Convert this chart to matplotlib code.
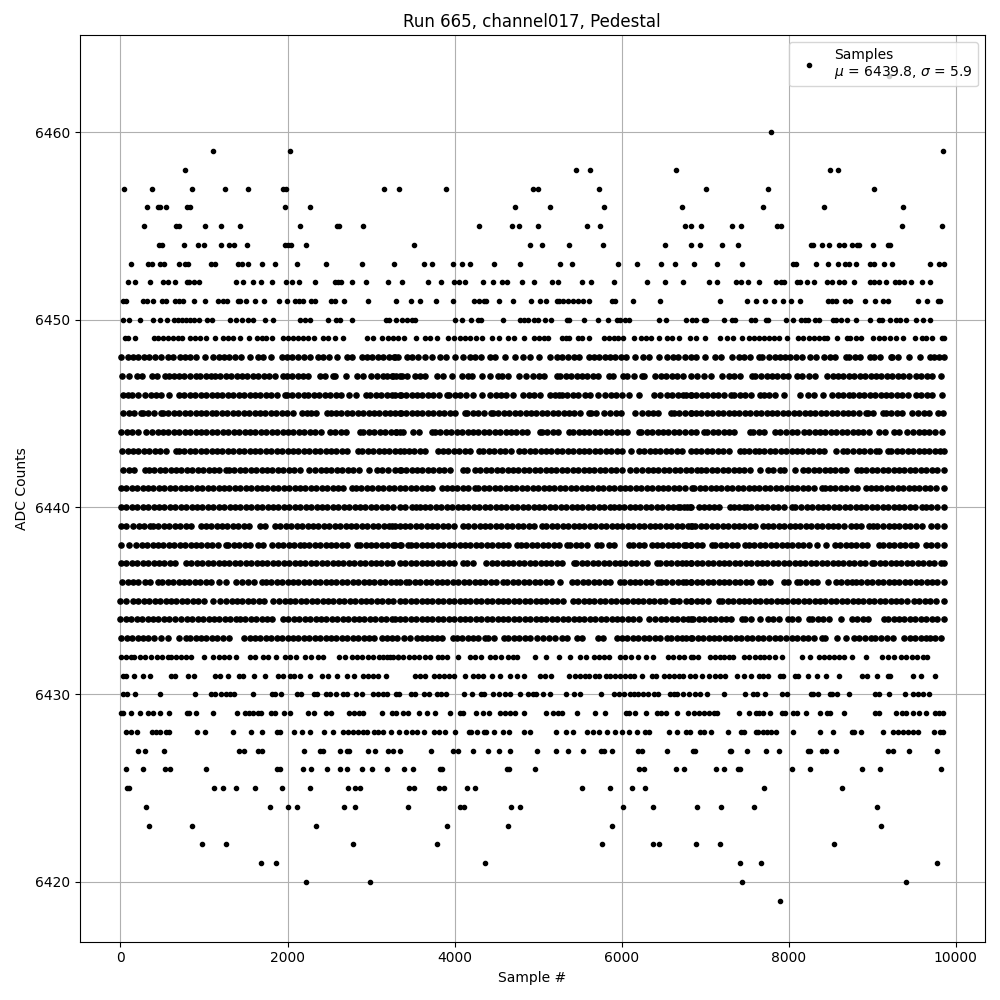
import matplotlib
matplotlib.use('Agg')
import matplotlib.pyplot as plt

# sample numbers, one list per ADC level
adc_6463 = [9200]
adc_6460 = [7787]
adc_6459 = [1108, 2032, 9851]
adc_6458 = [772, 5459, 5627, 6647, 8495, 8591]
adc_6457 = [40, 376, 856, 1252, 1528, 1948, 1980, 3160, 3340, 3892, 4943, 4995, 5723, 7007, 7751, 9023]
adc_6456 = [316, 448, 468, 544, 796, 828, 1972, 2272, 4720, 5147, 5783, 6719, 7691, 8423, 9371]
adc_6455 = [280, 664, 696, 1012, 1204, 1432, 2152, 2596, 2612, 2908, 4288, 4684, 4768, 5003, 5591, 5735, 6755, 6827, 6947, 7319, 7427,
            7863, 7903, 9359, 9839]
adc_6454 = [460, 492, 760, 928, 1000, 1204, 1300, 1360, 1516, 1972, 2008, 2036, 2224, 3520, 4900, 5051, 5375, 5771, 6515, 6827, 6935,
            7199, 7391, 8271, 8295, 8399, 8483, 8603, 8663, 8759, 8823, 8847, 9011, 9183, 9215]
adc_6453 = [124, 328, 376, 468, 516, 700, 772, 808, 1084, 1132, 1408, 1456, 1528, 1696, 1852, 2116, 2464, 2896, 3280, 3628, 3724, 3976,
            4084, 4180, 4468, 4780, 5267, 5411, 5951, 6179, 6467, 6635, 6863, 7139, 7439, 8051, 8087, 8327, 8471, 8591, 8675, 8723,
            8807, 8975, 9023, 9143, 9239, 9695, 9803, 9855]
adc_6452 = [88, 172, 352, 508, 568, 652, 796, 820, 880, 940, 1384, 1468, 1588, 1684, 1816, 1984, 2056, 2140, 2332, 2572, 2608, 2644,
            2776, 2944, 3208, 3376, 3676, 3832, 3988, 4048, 4120, 4336, 4456, 4564, 4624, 4804, 4955, 5171, 5243, 5531, 5639, 5903,
            6299, 6515, 6731, 7043, 7139, 7367, 7427, 7511, 7643, 7847, 7903, 7943, 8103, 8135, 8219, 8303, 8463, 8519, 8603, 8663,
            8783, 8975, 9023, 9083, 9167, 9275, 9323, 9383, 9463, 9599, 9695]
adc_6451 = [36, 68, 268, 316, 388, 496, 544, 652, 700, 748, 876, 1012, 1168, 1228, 1276, 1408, 1432, 1504, 1612, 1720, 1900, 1996, 2092,
            2140, 2188, 2284, 2332, 2524, 2572, 2680, 2968, 3304, 3484, 3592, 3772, 3976, 4228, 4288, 4348, 4372, 4528, 4696, 4919,
            5023, 5099, 5223, 5255, 5303, 5363, 5423, 5483, 5543, 5615, 5879, 5915, 6131, 6455, 7175, 7499, 7607, 7715, 7823, 7931,
            8027, 8135, 8471, 8519, 8567, 8675, 8735, 8915, 9035, 9131, 9191, 9543, 9659, 9791, 9815]
adc_6450 = [28, 100, 232, 388, 472, 556, 640, 688, 736, 784, 832, 880, 940, 1036, 1096, 1312, 1384, 1456, 1528, 1588, 1732, 1828, 2152,
            2212, 2272, 2488, 2584, 2632, 2776, 3184, 3220, 3304, 3376, 3436, 3496, 3532, 4000, 4084, 4192, 4276, 4312, 4576, 4780,
            4828, 4876, 4955, 5003, 5087, 5159, 5351, 5375, 5555, 5711, 5831, 5939, 5975, 6035, 6083, 6443, 6527, 6767, 6839, 6887,
            6983, 7007, 7223, 7319, 7355, 7547, 7595, 7727, 7751, 7967, 8051, 8147, 8195, 8231, 8315, 8363, 8531, 8567, 8627, 8699,
            8803, 8975, 9083, 9119, 9215, 9287, 9335, 9407, 9527, 9611, 9695]
adc_6449 = [60, 88, 172, 396, 448, 508, 568, 628, 688, 736, 828, 888, 948, 1020, 1128, 1228, 1288, 1348, 1428, 1540, 1636, 1696, 1748,
            1816, 1940, 2008, 2068, 2128, 2188, 2248, 2316, 2428, 2488, 2572, 2668, 2956, 3028, 3136, 3208, 3268, 3328, 3400, 3544,
            3640, 3700, 3784, 3916, 3988, 4060, 4120, 4180, 4252, 4324, 4444, 4528, 4636, 4708, 4828, 4955, 5015, 5075, 5123, 5283,
            5335, 5375, 5483, 5531, 5615, 5783, 5843, 5903, 5951, 6011, 6143, 6227, 6287, 6347, 6443, 6539, 6599, 6683, 6815, 6887,
            6995, 7175, 7259, 7331, 7439, 7523, 7583, 7643, 7703, 7763, 7823, 7883, 7979, 8111, 8171, 8243, 8303, 8363, 8423, 8463,
            8579, 8699, 8735, 8807, 8867, 9011, 9083, 9143, 9215, 9287, 9371, 9515, 9599, 9647, 9719, 9839, 9857]
adc_6448 = [8, 88, 150, 212, 280, 345, 410, 488, 568, 632, 708, 768, 835, 900, 1008, 1108, 1175, 1240, 1305, 1375, 1448, 1548, 1648, 1712,
            1808, 1928, 1990, 2055, 2120, 2195, 2268, 2368, 2428, 2495, 2588, 2708, 2770, 2888, 2948, 3015, 3080, 3145, 3210, 3270,
            3328, 3285, 3425, 3485, 3565, 3640, 3725, 3825, 3897, 4005, 4105, 4185, 4250, 4315, 4425, 4485, 4605, 4725, 4825, 4905,
            5005, 5145, 5225, 5290, 5360, 5425, 5490, 5605, 5665, 5730, 5795, 5860, 5925, 5990, 6055, 6165, 6253, 6325, 6445, 6545,
            6610, 6680, 6755, 6825, 6890, 7001, 7121, 7190, 7321, 7405, 7470, 7535, 7641, 7681, 7761, 7841, 7893, 7961, 8021, 8090,
            8155, 8250, 8321, 8421, 8490, 8555, 8681, 8721, 8790, 8855, 8973, 9021, 9090, 9221, 9241, 9310, 9441, 9573, 9693, 9741,
            9805, 9861]
adc_6447 = [20, 100, 196, 260, 380, 436, 528, 580, 636, 700, 765, 830, 900, 948, 1020, 1088, 1128, 1195, 1260, 1325, 1390, 1455, 1520,
            1585, 1650, 1715, 1780, 1845, 1948, 1988, 2055, 2120, 2185, 2250, 2388, 2448, 2540, 2568, 2700, 2828, 2900, 2996, 3068,
            3148, 3196, 3265, 3348, 3245, 3297, 3365, 3435, 3525, 3585, 3650, 3785, 3865, 3965, 4085, 4165, 4205, 4325, 4425, 4525,
            4565, 4645, 4777, 4850, 4937, 5005, 5075, 5225, 5265, 5330, 5395, 5460, 5525, 5590, 5655, 5720, 5845, 5897, 6017, 6065,
            6150, 6245, 6273, 6405, 6470, 6535, 6600, 6665, 6730, 6825, 6900, 6989, 7069, 7201, 7281, 7350, 7415, 7561, 7601, 7670,
            7735, 7800, 7865, 7930, 7995, 8101, 8161, 8241, 8313, 8461, 8525, 8590, 8655, 8720, 8785, 8850, 8915, 8980, 9045, 9110,
            9175, 9240, 9305, 9370, 9435, 9521, 9581, 9650, 9715, 9829]
adc_6446 = [28, 90, 140, 208, 296, 360, 425, 490, 580, 700, 765, 830, 895, 960, 1025, 1090, 1155, 1220, 1285, 1350, 1415, 1480, 1545, 1610,
            1675, 1740, 1805, 1870, 1968, 1988, 2055, 2120, 2196, 2248, 2316, 2380, 2445, 2510, 2575, 2640, 2740, 2820, 2940, 2988,
            3055, 3120, 3185, 3250, 3348, 3290, 3355, 3420, 3485, 3550, 3615, 3680, 3745, 3810, 3905, 3937, 4005, 4070, 4135, 4217,
            4333, 4425, 4490, 4555, 4620, 4705, 4817, 4885, 4953, 5025, 5137, 5200, 5245, 5285, 5350, 5415, 5480, 5565, 5625, 5713,
            5805, 5870, 5935, 6000, 6085, 6205, 6385, 6457, 6545, 6605, 6670, 6735, 6825, 6765, 6830, 6895, 6960, 7025, 7090, 7155,
            7220, 7309, 7349, 7415, 7480, 7545, 7661, 7701, 7770, 7841, 7949, 8133, 8229, 8300, 8413, 8521, 8590, 8655, 8721, 8773,
            8840, 8905, 8970, 9035, 9100, 9165, 9230, 9295, 9360, 9425, 9521, 9589, 9655, 9720, 9841]
adc_6445 = [36, 100, 165, 248, 268, 335, 400, 488, 508, 575, 640, 705, 770, 835, 900, 965, 1030, 1100, 1148, 1215, 1280, 1345, 1410, 1475,
            1540, 1605, 1670, 1735, 1800, 1865, 1930, 1995, 2060, 2168, 2228, 2276, 2340, 2468, 2516, 2580, 2645, 2710, 2775, 2840,
            2905, 2970, 3035, 3100, 3165, 3230, 3348, 3290, 3355, 3420, 3485, 3550, 3615, 3680, 3745, 3810, 3875, 3940, 4005, 4125,
            4153, 4220, 4285, 4350, 4433, 4457, 4525, 4590, 4655, 4720, 4785, 4850, 4915, 4980, 5045, 5110, 5175, 5240, 5305, 5370,
            5435, 5500, 5605, 5637, 5697, 5785, 5865, 5930, 5995, 6165, 6245, 6310, 6375, 6440, 6585, 6625, 6690, 6825, 6760, 6825,
            6890, 6955, 7020, 7085, 7150, 7215, 7280, 7345, 7410, 7475, 7540, 7605, 7670, 7735, 7800, 7865, 7930, 7995, 8060, 8125,
            8190, 8255, 8320, 8385, 8450, 8515, 8580, 8645, 8710, 8775, 8840, 8921, 8949, 9015, 9133, 9161, 9230, 9295, 9360, 9481,
            9549, 9615, 9680, 9789, 9849]
adc_6444 = [8, 75, 140, 205, 308, 380, 445, 510, 575, 640, 705, 770, 835, 900, 965, 1030, 1095, 1160, 1225, 1290, 1355, 1420, 1485, 1550,
            1615, 1680, 1745, 1810, 1875, 1940, 2005, 2070, 2135, 2200, 2265, 2330, 2395, 2508, 2568, 2635, 2700, 2868, 2908, 2975,
            3040, 3105, 3170, 3235, 3300, 3348, 3297, 3385, 3505, 3570, 3725, 3765, 3830, 3895, 3960, 4025, 4090, 4155, 4220, 4285,
            4350, 4415, 4480, 4545, 4610, 4675, 4740, 4805, 4870, 5025, 5045, 5110, 5175, 5240, 5373, 5417, 5485, 5550, 5615, 5680,
            5745, 5810, 5875, 5940, 6005, 6070, 6205, 6233, 6300, 6365, 6430, 6495, 6560, 6625, 6690, 6755, 6825, 6890, 6989, 7021,
            7090, 7155, 7220, 7285, 7350, 7541, 7573, 7640, 7705, 7841, 7901, 7970, 8035, 8100, 8189, 8241, 8310, 8375, 8440, 8505,
            8570, 8635, 8700, 8765, 8830, 8895, 8960, 9081, 9149, 9261, 9321, 9421, 9490, 9555, 9620, 9685, 9750, 9841]
adc_6443 = [20, 85, 150, 215, 280, 345, 410, 475, 540, 660, 700, 765, 830, 895, 960, 1025, 1090, 1155, 1220, 1285, 1350, 1415, 1480, 1545,
            1610, 1675, 1740, 1805, 1870, 1935, 2000, 2065, 2130, 2195, 2260, 2325, 2390, 2455, 2520, 2585, 2650, 2715, 2848, 2896,
            2960, 3025, 3090, 3155, 3220, 3285, 3348, 3390, 3455, 3520, 3585, 3650, 3805, 3857, 3925, 3990, 4055, 4120, 4185, 4297,
            4345, 4410, 4475, 4540, 4605, 4670, 4777, 4833, 4900, 4965, 5030, 5095, 5160, 5225, 5290, 5355, 5420, 5485, 5550, 5615,
            5680, 5745, 5810, 5875, 5940, 6005, 6113, 6205, 6270, 6335, 6400, 6465, 6530, 6595, 6660, 6725, 6825, 6890, 6955, 7020,
            7085, 7150, 7215, 7280, 7421, 7461, 7530, 7601, 7641, 7710, 7775, 7840, 7905, 7970, 8035, 8100, 8165, 8230, 8295, 8360,
            8425, 8561, 8649, 8701, 8770, 8841, 8901, 8970, 9041, 9081, 9189, 9229, 9295, 9360, 9425, 9490, 9555, 9620, 9685, 9750,
            9815, 9860]
adc_6442 = [36, 100, 165, 288, 340, 405, 470, 535, 600, 665, 730, 795, 860, 925, 990, 1055, 1120, 1185, 1268, 1300, 1365, 1430, 1495, 1560,
            1625, 1690, 1755, 1820, 1885, 1950, 2015, 2080, 2145, 2260, 2328, 2395, 2460, 2525, 2590, 2655, 2720, 2785, 2850, 2980,
            3068, 3135, 3200, 3348, 3290, 3355, 3420, 3485, 3550, 3615, 3680, 3745, 3810, 3875, 3940, 4105, 4153, 4245, 4310, 4375,
            4440, 4505, 4570, 4635, 4700, 4765, 4830, 4895, 4960, 5025, 5090, 5155, 5220, 5285, 5350, 5415, 5480, 5545, 5610, 5675,
            5740, 5805, 5870, 5935, 6000, 6097, 6177, 6245, 6310, 6375, 6440, 6505, 6570, 6635, 6825, 6700, 6765, 6901, 6949, 7013,
            7080, 7145, 7210, 7275, 7340, 7405, 7470, 7535, 7661, 7749, 7815, 7901, 7949, 8081, 8169, 8235, 8300, 8365, 8430, 8495,
            8560, 8625, 8690, 8821, 8861, 8930, 8995, 9060, 9125, 9190, 9255, 9320, 9385, 9450, 9515, 9580, 9645, 9710, 9775, 9860]
adc_6441 = [4, 70, 135, 200, 265, 330, 395, 460, 525, 590, 655, 720, 785, 850, 915, 980, 1045, 1110, 1175, 1240, 1305, 1370, 1435, 1500,
            1565, 1630, 1695, 1760, 1825, 1890, 1955, 2020, 2085, 2150, 2215, 2280, 2345, 2410, 2475, 2540, 2605, 2670, 2768, 2820,
            2885, 2950, 3015, 3080, 3145, 3210, 3275, 3348, 3410, 3475, 3540, 3605, 3670, 3735, 3845, 3905, 3965, 4030, 4095, 4160,
            4245, 4285, 4350, 4415, 4480, 4545, 4610, 4675, 4740, 4805, 4870, 4935, 5000, 5065, 5130, 5195, 5260, 5325, 5390, 5455,
            5520, 5585, 5650, 5715, 5780, 5845, 5910, 5975, 6040, 6105, 6170, 6235, 6300, 6365, 6430, 6495, 6560, 6625, 6690, 6755,
            6841, 6869, 6935, 7000, 7065, 7130, 7195, 7260, 7325, 7390, 7455, 7520, 7585, 7650, 7715, 7780, 7845, 7910, 7975, 8040,
            8105, 8170, 8235, 8300, 8401, 8429, 8495, 8560, 8625, 8690, 8755, 8820, 8921, 8981, 9041, 9110, 9175, 9240, 9305, 9370,
            9435, 9500, 9565, 9630, 9695, 9760, 9861]
adc_6440 = [8, 72, 137, 202, 267, 332, 397, 462, 527, 592, 657, 722, 787, 852, 917, 982, 1047, 1112, 1177, 1242, 1307, 1372, 1437, 1502,
            1567, 1632, 1697, 1762, 1827, 1892, 1957, 2022, 2087, 2152, 2217, 2282, 2347, 2412, 2477, 2542, 2607, 2672, 2737, 2802,
            2867, 2932, 2997, 3062, 3127, 3192, 3257, 3348, 3410, 3485, 3537, 3585, 3645, 3710, 3775, 3840, 3905, 3970, 4035, 4100,
            4165, 4230, 4295, 4360, 4425, 4490, 4555, 4620, 4685, 4750, 4815, 4880, 4945, 5010, 5075, 5140, 5205, 5270, 5335, 5400,
            5465, 5530, 5595, 5660, 5725, 5790, 5855, 5913, 5965, 6030, 6095, 6160, 6225, 6290, 6355, 6420, 6485, 6550, 6615, 6680,
            6745, 6825, 6701, 6781, 6821, 6921, 6981, 7041, 7101, 7161, 7301, 7341, 7401, 7461, 7501, 7549, 7615, 7680, 7745, 7810,
            7875, 7940, 8041, 8081, 8150, 8215, 8280, 8345, 8410, 8475, 8540, 8605, 8670, 8735, 8800, 8865, 8930, 8995, 9060, 9125,
            9190, 9255, 9320, 9385, 9450, 9515, 9601, 9641, 9701, 9770, 9861]
adc_6439 = [8, 68, 148, 220, 285, 348, 388, 455, 520, 585, 650, 715, 780, 845, 968, 1020, 1085, 1150, 1215, 1280, 1345, 1410, 1475, 1540,
            1668, 1728, 1848, 1915, 1980, 2045, 2110, 2175, 2240, 2305, 2370, 2435, 2500, 2565, 2630, 2695, 2760, 2825, 2890, 2955,
            3020, 3085, 3150, 3215, 3288, 3245, 3345, 3405, 3470, 3535, 3600, 3665, 3730, 3795, 3860, 3925, 3990, 4105, 4165, 4235,
            4305, 4365, 4430, 4495, 4560, 4625, 4690, 4755, 4820, 4885, 4950, 5045, 5097, 5165, 5230, 5295, 5360, 5425, 5490, 5555,
            5620, 5685, 5750, 5815, 5880, 5945, 6010, 6075, 6140, 6205, 6270, 6335, 6400, 6465, 6530, 6595, 6660, 6825, 6725, 6790,
            6841, 6881, 6950, 7015, 7080, 7145, 7210, 7275, 7340, 7405, 7470, 7535, 7600, 7693, 7749, 7815, 7880, 7945, 8010, 8075,
            8140, 8205, 8270, 8335, 8400, 8465, 8530, 8595, 8660, 8741, 8801, 8870, 8961, 9013, 9061, 9130, 9195, 9260, 9325, 9390,
            9455, 9520, 9601, 9701, 9770, 9861]
adc_6438 = [8, 108, 188, 255, 320, 385, 450, 515, 580, 645, 710, 775, 840, 905, 970, 1035, 1100, 1165, 1260, 1288, 1355, 1420, 1485, 1550,
            1648, 1708, 1820, 1885, 1950, 2015, 2080, 2148, 2196, 2260, 2325, 2390, 2455, 2520, 2585, 2650, 2715, 2828, 2868, 2935,
            3000, 3065, 3130, 3195, 3260, 3348, 3290, 3355, 3445, 3473, 3540, 3605, 3670, 3735, 3800, 3865, 3930, 3995, 4060, 4125,
            4190, 4255, 4320, 4385, 4450, 4515, 4580, 4645, 4753, 4793, 4860, 4925, 4990, 5055, 5120, 5185, 5250, 5345, 5385, 5450,
            5515, 5580, 5705, 5757, 5845, 5910, 6085, 6137, 6205, 6270, 6365, 6425, 6485, 6550, 6615, 6680, 6745, 6825, 6770, 6835,
            6900, 6965, 7081, 7121, 7190, 7255, 7320, 7385, 7481, 7521, 7589, 7655, 7720, 7785, 7850, 7915, 7980, 8045, 8110, 8175,
            8240, 8341, 8441, 8549, 8615, 8680, 8745, 8810, 8875, 8940, 9081, 9133, 9200, 9265, 9330, 9395, 9460, 9525, 9641, 9709,
            9775, 9861]
adc_6437 = [8, 72, 137, 202, 267, 332, 397, 462, 527, 592, 657, 788, 848, 916, 980, 1045, 1110, 1175, 1240, 1305, 1370, 1435, 1500, 1565,
            1630, 1695, 1760, 1825, 1890, 1955, 2020, 2085, 2150, 2215, 2280, 2345, 2410, 2475, 2540, 2605, 2670, 2735, 2800, 2865,
            2930, 2995, 3060, 3125, 3190, 3255, 3348, 3410, 3475, 3540, 3605, 3670, 3735, 3800, 3865, 3930, 3995, 4105, 4153, 4220,
            4377, 4445, 4510, 4575, 4640, 4705, 4770, 4835, 4900, 4965, 5030, 5095, 5160, 5225, 5290, 5425, 5457, 5525, 5590, 5655,
            5720, 5785, 5850, 5915, 5980, 6045, 6110, 6175, 6240, 6305, 6425, 6465, 6530, 6595, 6660, 6725, 6825, 6770, 6835, 6900,
            6965, 7030, 7095, 7160, 7225, 7290, 7355, 7420, 7485, 7550, 7615, 7680, 7745, 7810, 7875, 7940, 8005, 8070, 8135, 8200,
            8265, 8330, 8395, 8460, 8525, 8590, 8655, 8720, 8785, 8850, 8915, 9001, 9021, 9090, 9155, 9220, 9285, 9350, 9415, 9480,
            9545, 9610, 9675, 9740, 9821, 9861]
adc_6436 = [20, 85, 150, 215, 288, 348, 448, 500, 565, 630, 695, 760, 825, 890, 955, 1020, 1085, 1180, 1268, 1380, 1460, 1530, 1595, 1700,
            1740, 1805, 1870, 1935, 2000, 2065, 2130, 2195, 2260, 2325, 2390, 2455, 2520, 2585, 2650, 2715, 2780, 2845, 2910, 2975,
            3040, 3105, 3170, 3235, 3300, 3348, 3417, 3457, 3525, 3590, 3655, 3720, 3785, 3850, 3915, 3980, 4045, 4110, 4175, 4240,
            4305, 4370, 4435, 4500, 4585, 4633, 4700, 4765, 4830, 4895, 4960, 5025, 5090, 5155, 5265, 5405, 5470, 5535, 5600, 5665,
            5730, 5795, 5860, 5985, 6025, 6095, 6160, 6225, 6290, 6355, 6437, 6477, 6537, 6605, 6670, 6735, 6825, 6770, 6835, 6900,
            6965, 7030, 7095, 7160, 7225, 7290, 7355, 7420, 7485, 7550, 7661, 7709, 7775, 7941, 7989, 8101, 8141, 8210, 8275, 8340,
            8469, 8561, 8630, 8695, 8761, 8801, 8870, 8935, 9000, 9065, 9130, 9195, 9260, 9325, 9390, 9455, 9520, 9585, 9650, 9715,
            9780, 9861]
adc_6435 = [0, 68, 148, 215, 280, 345, 410, 475, 540, 605, 670, 735, 800, 865, 930, 995, 1108, 1196, 1265, 1330, 1395, 1460, 1525, 1590,
            1655, 1720, 1828, 1900, 1965, 2030, 2095, 2160, 2225, 2290, 2355, 2420, 2485, 2550, 2615, 2680, 2745, 2810, 2875, 2940,
            3005, 3070, 3135, 3200, 3265, 3348, 3410, 3475, 3540, 3605, 3670, 3735, 3800, 3865, 3930, 3995, 4060, 4125, 4190, 4255,
            4320, 4385, 4450, 4515, 4580, 4645, 4710, 4775, 4840, 4905, 4970, 5035, 5100, 5165, 5230, 5295, 5417, 5473, 5545, 5610,
            5675, 5740, 5805, 5870, 5935, 6000, 6065, 6130, 6195, 6260, 6325, 6390, 6455, 6520, 6605, 6625, 6690, 6825, 6770, 6835,
            6900, 6965, 7030, 7161, 7201, 7270, 7335, 7400, 7465, 7530, 7595, 7660, 7725, 7790, 7855, 7920, 7985, 8050, 8115, 8180,
            8245, 8310, 8375, 8440, 8505, 8570, 8635, 8700, 8765, 8830, 8895, 8960, 9025, 9090, 9155, 9220, 9285, 9350, 9415, 9501,
            9561, 9630, 9695, 9760, 9861]
adc_6434 = [0, 65, 130, 195, 260, 325, 390, 455, 520, 585, 650, 728, 796, 860, 925, 990, 1055, 1120, 1185, 1250, 1315, 1388, 1428, 1495,
            1560, 1625, 1690, 1755, 1820, 1940, 2008, 2075, 2140, 2205, 2270, 2335, 2400, 2465, 2530, 2595, 2660, 2725, 2790, 2855,
            2920, 2985, 3050, 3115, 3180, 3288, 3245, 3345, 3410, 3475, 3540, 3605, 3670, 3735, 3800, 3865, 3930, 3995, 4060, 4125,
            4190, 4255, 4320, 4385, 4450, 4515, 4580, 4645, 4710, 4775, 4840, 4905, 4970, 5035, 5100, 5165, 5230, 5295, 5360, 5425,
            5490, 5555, 5620, 5685, 5750, 5815, 5880, 5945, 6010, 6075, 6140, 6205, 6325, 6405, 6470, 6535, 6600, 6665, 6825, 6730,
            6795, 6860, 6925, 6990, 7055, 7120, 7185, 7250, 7315, 7441, 7481, 7550, 7661, 7749, 7815, 7880, 7989, 8041, 8110, 8241,
            8281, 8350, 8415, 8480, 8621, 8761, 8821, 8890, 8955, 9141, 9189, 9255, 9320, 9385, 9450, 9515, 9580, 9645, 9710, 9775,
            9861]
adc_6433 = [8, 75, 140, 205, 270, 335, 400, 488, 568, 700, 780, 836, 900, 965, 1030, 1095, 1160, 1225, 1300, 1480, 1545, 1610, 1675, 1740,
            1805, 1870, 1935, 2000, 2065, 2130, 2195, 2260, 2325, 2390, 2455, 2520, 2585, 2650, 2715, 2780, 2845, 2910, 2975, 3040,
            3128, 3188, 3248, 3316, 3400, 3465, 3545, 3605, 3665, 3725, 3790, 3855, 3985, 4025, 4090, 4155, 4220, 4285, 4365, 4405,
            4470, 4593, 4645, 4710, 4775, 4840, 4905, 4985, 5057, 5125, 5205, 5285, 5350, 5465, 5525, 5713, 5780, 5945, 6005, 6070,
            6135, 6200, 6265, 6330, 6395, 6460, 6545, 6593, 6660, 6725, 6825, 6770, 6841, 6909, 6975, 7040, 7105, 7170, 7235, 7300,
            7365, 7430, 7495, 7560, 7629, 7693, 7760, 7841, 7901, 7965, 8041, 8101, 8170, 8235, 8300, 8401, 8433, 8581, 8681, 8781,
            8841, 8910, 8981, 9029, 9100, 9173, 9253, 9381, 9450, 9515, 9580, 9641, 9693, 9755, 9821]
adc_6432 = [8, 70, 128, 168, 230, 288, 368, 435, 500, 568, 608, 670, 728, 788, 848, 1000, 1108, 1175, 1240, 1305, 1380, 1548, 1615, 1708,
            1768, 1868, 1968, 2035, 2100, 2208, 2276, 2368, 2420, 2620, 2690, 2768, 2828, 2895, 2960, 3025, 3090, 3148, 3196, 3260,
            3328, 3225, 3325, 3385, 3450, 3515, 3580, 3645, 3710, 3805, 3845, 3910, 4045, 4185, 4250, 4315, 4425, 4485, 4550, 4645,
            4705, 4753, 4965, 5097, 5245, 5377, 5505, 5570, 5665, 5725, 5790, 5845, 5977, 6045, 6110, 6193, 6297, 6377, 6553, 6620,
            6685, 6750, 6825, 6853, 6909, 7061, 7120, 7173, 7221, 7280, 7333, 7461, 7530, 7595, 7661, 7701, 7770, 7841, 7921, 8161,
            8253, 8361, 8425, 8481, 8541, 8601, 8661, 8761, 8929, 9121, 9190, 9261, 9341, 9410, 9475, 9540, 9605, 9661]
adc_6431 = [28, 68, 160, 268, 352, 608, 652, 808, 880, 1128, 1188, 1288, 1420, 1468, 1600, 1732, 1888, 1948, 2028, 2080, 2148, 2272, 2408,
            2488, 2596, 2708, 2800, 2908, 2968, 3028, 3088, 3176, 3528, 3588, 3648, 3748, 3808, 3868, 3928, 3988, 4120, 4216, 4276,
            4336, 4444, 4540, 4668, 4748, 4828, 5023, 5083, 5159, 5375, 5443, 5503, 5563, 5615, 5683, 5723, 5807, 5863, 5923, 5983,
            6043, 6095, 6143, 6239, 6359, 6407, 6503, 6563, 6623, 6683, 6731, 6823, 6883, 6963, 7043, 7123, 7183, 7243, 7379, 7463,
            7547, 7643, 7691, 7751, 7895, 7931, 8075, 8111, 8231, 8339, 8447, 8603, 8879, 8939, 9059, 9191, 9215, 9491, 9587, 9755]
adc_6430 = [36, 76, 172, 472, 892, 1084, 1136, 1208, 1268, 1316, 1360, 1588, 1816, 1848, 1924, 2116, 2164, 2320, 2356, 2464, 2512, 2584,
            2668, 2716, 2824, 2896, 3028, 3088, 3148, 3196, 3300, 3340, 3484, 3532, 3628, 3688, 3784, 3832, 3892, 4108, 4204, 4312,
            4348, 4456, 4528, 4600, 4660, 4780, 4876, 4935, 4975, 5059, 5147, 5339, 5435, 5507, 5747, 5903, 5963, 6023, 6095, 6143,
            6191, 6251, 6311, 6383, 6431, 6575, 6623, 6659, 6731, 6803, 6883, 6943, 7019, 7223, 7475, 7571, 7623, 7715, 7919, 7979,
            8267, 8291, 8351, 8495, 8519, 8579, 8727, 9035, 9083, 9203, 9395, 9483, 9543, 9611, 9683]
adc_6429 = [4, 28, 124, 232, 328, 388, 472, 580, 796, 820, 904, 1108, 1396, 1492, 1540, 1588, 1648, 1688, 1808, 1848, 1960, 2028, 2248, 2320,
            2464, 2524, 2740, 2800, 2860, 2908, 3136, 3256, 3304, 3388, 3448, 3580, 3664, 3760, 3940, 4060, 4096, 4252, 4336, 4408,
            4540, 4608, 4668, 4728, 4828, 5099, 5183, 5243, 5291, 5471, 5687, 5795, 6047, 6083, 6155, 6287, 6419, 6467, 6527, 6659,
            6791, 6863, 6923, 6983, 7043, 7103, 7143, 7403, 7523, 7607, 7643, 7691, 7775, 7919, 7955, 8051, 8099, 8207, 8375, 8459,
            8495, 8663, 9035, 9083, 9287, 9359, 9407, 9491, 9563, 9647, 9755, 9803, 9851]
adc_6428 = [68, 128, 196, 376, 428, 468, 544, 580, 916, 1012, 1348, 1564, 1696, 1876, 1912, 2080, 2176, 2272, 2440, 2548, 2668, 2728, 2788,
            2848, 2908, 2948, 3040, 3088, 3148, 3244, 3340, 3424, 3488, 3556, 3628, 3748, 3808, 3880, 4000, 4168, 4192, 4268, 4348,
            4380, 4468, 4576, 4648, 4836, 4900, 5219, 5339, 5423, 5591, 5663, 5723, 5819, 5915, 5999, 6083, 6179, 6275, 6323, 6563,
            6659, 6767, 6823, 6943, 6983, 7067, 7271, 7427, 7463, 7607, 7631, 7691, 7739, 7787, 7843, 8051, 8375, 8531, 8759, 8783,
            8867, 9131, 9251, 9303, 9363, 9423, 9483, 9543, 9743, 9815, 9851]
adc_6427 = [208, 292, 520, 1420, 1480, 1648, 1696, 2200, 2392, 2428, 2632, 2716, 2740, 2968, 3052, 3208, 3268, 3352, 3712, 3976, 4036, 4216,
            4396, 4528, 4660, 4991, 5219, 5363, 5543, 5747, 5783, 5879, 6191, 6239, 6539, 6851, 6875, 7295, 7307, 7499, 7727, 7883,
            8231, 8255, 8399, 8447, 8567, 9191, 9251, 9443, 9779]
adc_6426 = [64, 268, 532, 592, 1024, 1876, 1912, 2188, 2284, 2476, 2632, 2716, 2896, 3016, 3196, 3400, 3508, 3820, 3844, 4624, 4648, 4960,
            6203, 6263, 6647, 6743, 7127, 7223, 7391, 7415, 8039, 8255, 8879, 9095, 9827]
adc_6425 = [84, 108, 1120, 1228, 1384, 1612, 1936, 2272, 2728, 2812, 2872, 3460, 3520, 3808, 3868, 4144, 4240, 5531, 5855, 6119, 6275, 7703, 8639]
adc_6424 = [304, 1792, 2008, 2116, 2680, 2812, 3448, 4060, 4108, 4672, 4780, 6011, 6371, 6899, 7187, 7583, 9059]
adc_6423 = [340, 856, 2344, 3904, 4636, 5879, 9107]
adc_6422 = [976, 1264, 2788, 3784, 5759, 6371, 6443, 6887, 7175, 8543]
adc_6421 = [1684, 1864, 4360, 7415, 7667, 9779]
adc_6420 = [2224, 2992, 7439, 9407]
adc_6419 = [7895]

sparse_levels = [6463, 6460, 6459, 6458, 6457, 6456, 6455, 6454, 6453, 6452, 6451, 6450, 6449, 6432, 6431, 6430, 6429, 6428, 6427,
                 6426, 6425, 6424, 6423, 6422, 6421, 6420, 6419]
sparse_rows = [adc_6463, adc_6460, adc_6459, adc_6458, adc_6457, adc_6456, adc_6455, adc_6454, adc_6453, adc_6452, adc_6451, adc_6450,
               adc_6449, adc_6432, adc_6431, adc_6430, adc_6429, adc_6428, adc_6427, adc_6426, adc_6425, adc_6424, adc_6423, adc_6422,
               adc_6421, adc_6420, adc_6419]
dense_levels = [6448, 6447, 6446, 6445, 6444, 6443, 6442, 6441, 6440, 6439, 6438, 6437, 6436, 6435, 6434, 6433]
dense_rows = [adc_6448, adc_6447, adc_6446, adc_6445, adc_6444, adc_6443, adc_6442, adc_6441, adc_6440, adc_6439, adc_6438, adc_6437,
              adc_6436, adc_6435, adc_6434, adc_6433]

samples = []
counts = []
for level, row in zip(sparse_levels, sparse_rows):
    samples += row
    counts += [level] * len(row)

dense_samples = []
dense_counts = []
for level, row in zip(dense_levels, dense_rows):
    dense_samples += row
    dense_counts += [level] * len(row)

plt.figure(figsize=(10, 10), dpi=100)
plt.plot(samples, counts, 'k.', label='Samples\n$\\mu$ = 6439.8, $\\sigma$ = 5.9')
# the middle rows are only read about one mark per bead, slightly bigger dots close them up
plt.plot(dense_samples, dense_counts, 'k.', markersize=7.5)
plt.xlim(-490, 10350)
plt.ylim(6416.8, 6465.2)
plt.xlabel('Sample #')
plt.ylabel('ADC Counts')
plt.title('Run 665, channel017, Pedestal')
plt.grid()
plt.legend(loc='upper right')
plt.tight_layout()
plt.subplots_adjust(top=0.965)
plt.savefig('out.png')
